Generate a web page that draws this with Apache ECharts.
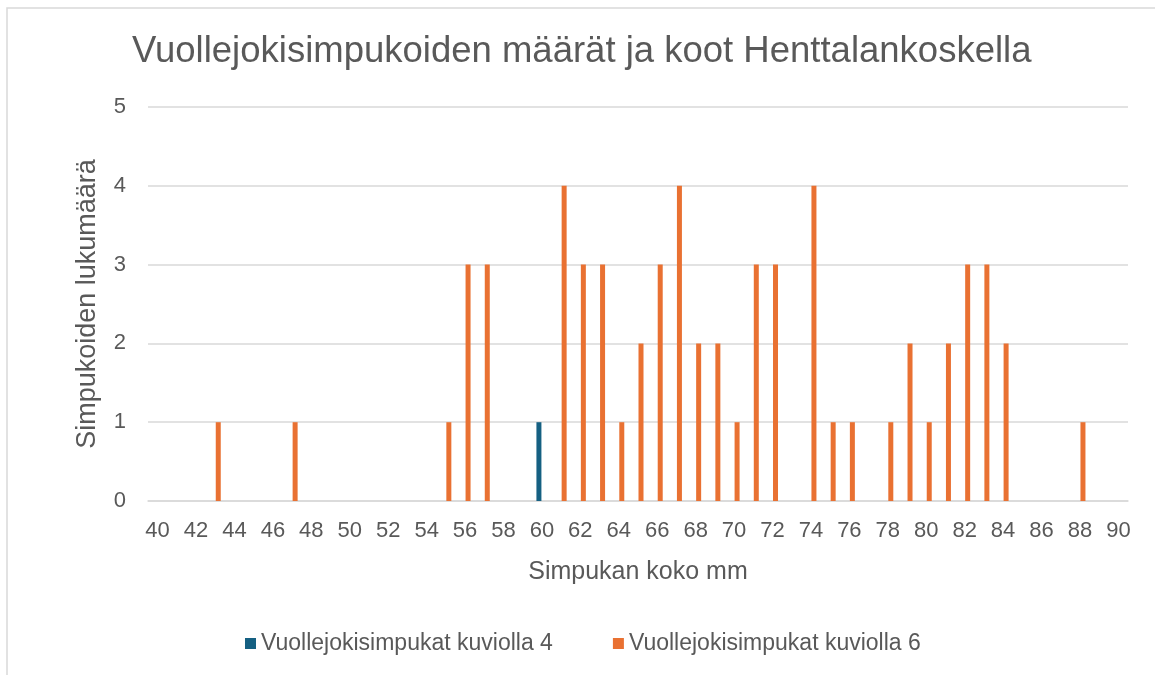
<!DOCTYPE html>
<html lang="fi" style="height: 100%">
    <head>
        <meta charset="utf-8">
        <title>Vuollejokisimpukat</title>
    </head>
    <body style="height: 100%; margin: 0; background: #fff">
        <div id="container" style="width: 1155px; height: 675px"></div>
        <script src="https://cdn.jsdelivr.net/npm/echarts@6/dist/echarts.min.js"></script>
        <script>
            // simpukan koko mm, 40..90
            let sizes = [];
            for (let s = 40; s <= 90; s++) {
                sizes.push(String(s));
            }

            let pattern4Sizes = [60];
            let pattern4Counts = [1];

            let pattern6Sizes = [43, 47, 55, 56, 57, 61, 62, 63, 64, 65, 66, 67, 68, 69, 70, 71, 72,
                74, 75, 76, 78, 79, 80, 81, 82, 83, 84, 88];
            let pattern6Counts = [1, 1, 1, 3, 3, 4, 3, 3, 1, 2, 3, 4, 2, 2, 1, 3, 3,
                4, 1, 1, 1, 2, 1, 2, 3, 3, 2, 1];

            let seriesNames = ["Vuollejokisimpukat kuviolla 4", "Vuollejokisimpukat kuviolla 6"];

            function toSeries(xs, ys) {
                let data = sizes.map(function () { return null; });
                for (let i = 0; i < xs.length; i++) {
                    data[sizes.indexOf(String(xs[i]))] = ys[i];
                }
                return data;
            }

            let textColor = "#595959";
            let font = "Liberation Sans, Arial, sans-serif";

            let chart = echarts.init(document.getElementById("container"), null, { renderer: "canvas" });

            let option = {
                backgroundColor: "#ffffff",
                textStyle: { fontFamily: font },
                title: {
                    text: "Vuollejokisimpukoiden määrät ja koot Henttalankoskella",
                    left: 127,
                    top: 28,
                    textStyle: { fontSize: 36.5, fontWeight: "normal", color: textColor, fontFamily: font }
                },
                graphic: [
                    {
                        type: "rect",
                        shape: { x: 7, y: 8, width: 1200, height: 700 },
                        style: { fill: null, stroke: "#d9d9d9", lineWidth: 1.5 },
                        silent: true
                    }
                ],
                legend: {
                    top: 627,
                    left: 240,
                    itemWidth: 11,
                    itemHeight: 11,
                    itemGap: 60,
                    icon: "rect",
                    textStyle: { fontSize: 23, color: textColor, fontFamily: font },
                    data: seriesNames
                },
                grid: {
                    left: 148,
                    right: 27,
                    top: 107,
                    bottom: 174,
                    containLabel: false
                },
                xAxis: {
                    type: "category",
                    data: sizes,
                    boundaryGap: true,
                    name: "Simpukan koko mm",
                    nameLocation: "middle",
                    nameGap: 59,
                    nameTextStyle: { fontSize: 25, color: textColor },
                    axisLine: { show: true, lineStyle: { color: "#d9d9d9", width: 1.5 } },
                    axisTick: { show: false },
                    axisLabel: { interval: 1, fontSize: 22, color: textColor, margin: 19 }
                },
                yAxis: {
                    type: "value",
                    min: 0,
                    max: 5,
                    interval: 1,
                    name: "Simpukoiden lukumäärä",
                    nameLocation: "middle",
                    nameGap: 47,
                    nameTextStyle: { fontSize: 27, color: textColor },
                    axisLine: { show: false },
                    axisTick: { show: false },
                    axisLabel: { fontSize: 22, color: textColor, margin: 22 },
                    splitLine: { lineStyle: { color: "#d9d9d9", width: 1.5 } }
                },
                series: [
                    {
                        name: seriesNames[0],
                        type: "bar",
                        barWidth: 5,
                        barGap: "20%",
                        itemStyle: { color: "#156082" },
                        data: toSeries(pattern4Sizes, pattern4Counts)
                    },
                    {
                        name: seriesNames[1],
                        type: "bar",
                        barWidth: 5,
                        barGap: "20%",
                        itemStyle: { color: "#e97132" },
                        data: toSeries(pattern6Sizes, pattern6Counts)
                    }
                ]
            };

            chart.setOption(option);
        </script>
    </body>
</html>
